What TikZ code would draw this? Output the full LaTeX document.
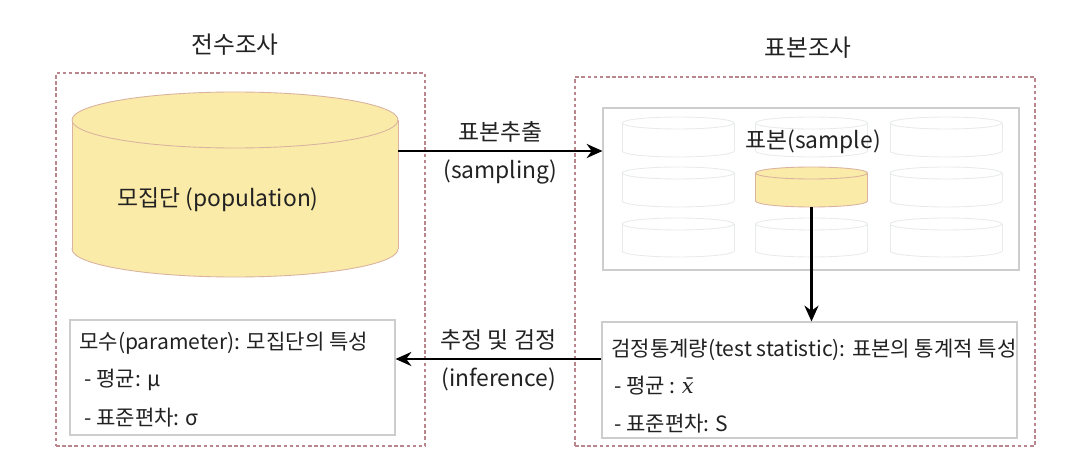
\documentclass[tikz,border=0pt]{standalone}
\usepackage{fontspec}
\setmainfont{Noto Sans CJK KR}
\newfontfamily\xbarfont{DejaVu Serif}
\usetikzlibrary{arrows.meta,fit}
\definecolor{popyellow}{HTML}{FBEBA8}
\definecolor{cylborder}{HTML}{D9B3A0}
\definecolor{dashpink}{HTML}{B8868C}
\definecolor{boxgray}{HTML}{CDCDCD}
\definecolor{faintgray}{HTML}{E8ECE8}
\definecolor{txt}{HTML}{222222}

\begin{document}
\begin{tikzpicture}
  [x=0.02cm,y=-0.02cm,font=\fontsize{12}{14}\selectfont,text=txt,
   big/.style={font=\fontsize{13}{15}\selectfont},
   dbox/.style={draw=dashpink,dash pattern=on 2pt off 1.5pt,line width=0.6pt,inner sep=0},
   gbox/.style={draw=boxgray,line width=0.6pt,inner sep=0},
   cyl/.style={draw=cylborder,fill=popyellow,line width=0.5pt},
   faint/.style={draw=faintgray,fill=white,line width=0.5pt},
   arr/.style={line width=1.6pt,-{Stealth[length=9pt,width=8pt]}}]
  \useasboundingbox (0,0) rectangle (1066,466);
  % two surveys
  \node[dbox,fit={(56,73) (425,446)}] (cen) {};
  \node[dbox,fit={(575,77) (1035,446)}] (sur) {};
  \node[font=\fontsize{13.5}{15}\selectfont] (tcen) at (235,45) {전수조사};
  \node[font=\fontsize{13.5}{15}\selectfont] (tsur) at (808,48) {표본조사};
  \node[gbox,fit={(603,108) (1019,270)}] (smp) {};
  \node[gbox,fit={(70,320) (395,435)}] (par) {};
  \node[gbox,fit={(602,322) (1017,438)}] (stat) {};
  % cylinders
  \foreach \cx/\rx/\ct/\cb/\ry/\st in {235/163/120/249/28/cyl,
      678/56/123/151/6/faint,811.5/56/123/151/6/faint,946/56/123/151/6/faint,
      678/56/173/201/6/faint,946/56/173/201/6/faint,
      678/56/224/251/6/faint,811.5/56/224/251/6/faint,946/56/224/251/6/faint,
      811.5/56/173/201/6/cyl}{
    \filldraw[\st] (\cx,\cb) ellipse [x radius=\rx,y radius=\ry];
    \fill[\st,draw=none] (\cx-\rx,\ct) rectangle (\cx+\rx,\cb);
    \draw[\st] (\cx-\rx,\ct) -- (\cx-\rx,\cb) (\cx+\rx,\ct) -- (\cx+\rx,\cb);
    \filldraw[\st] (\cx,\ct) ellipse [x radius=\rx,y radius=\ry];
  }
  \node[fit={(72,92) (398,277)},inner sep=0] (pop) {};
  \node[fit={(755,167) (868,207)},inner sep=0] (samp) {};
  \node[big] (tpop) at (218,200) {모집단 (population)};
  \node[big] (tsmp) at (813,142) {표본(sample)};
  % texts in boxes
  \node[anchor=west] (par1) at (73,343) {모수(parameter): 모집단의 특성};
  \node[anchor=west] (par2) at (78,380) {- 평균: μ};
  \node[anchor=west] (par3) at (78,418) {- 표준편차: σ};
  \node[anchor=west] (stat1) at (605,350) {검정통계량(test statistic): 표본의 통계적 특성};
  \node[anchor=west] (stat2) at (608,386) {- 평균 : {\xbarfont\itshape x̄}};
  \node[anchor=west] (stat3) at (608,424) {- 표준편차: S};
  % arrows
  \draw[arr] (pop.east |- 0,151) -- (smp.west |- 0,151)
    node[big,midway,above,inner sep=4pt] {표본추출}
    node[big,midway,below,inner sep=4pt] {(sampling)};
  \draw[arr] (stat.west |- 0,359) -- (par.east |- 0,359)
    node[big,midway,above,inner sep=4pt] {추정 및 검정}
    node[big,midway,below,inner sep=4pt] {(inference)};
  \draw[arr] (samp.south) -- (stat.north -| samp.south);
\end{tikzpicture}
\end{document}
